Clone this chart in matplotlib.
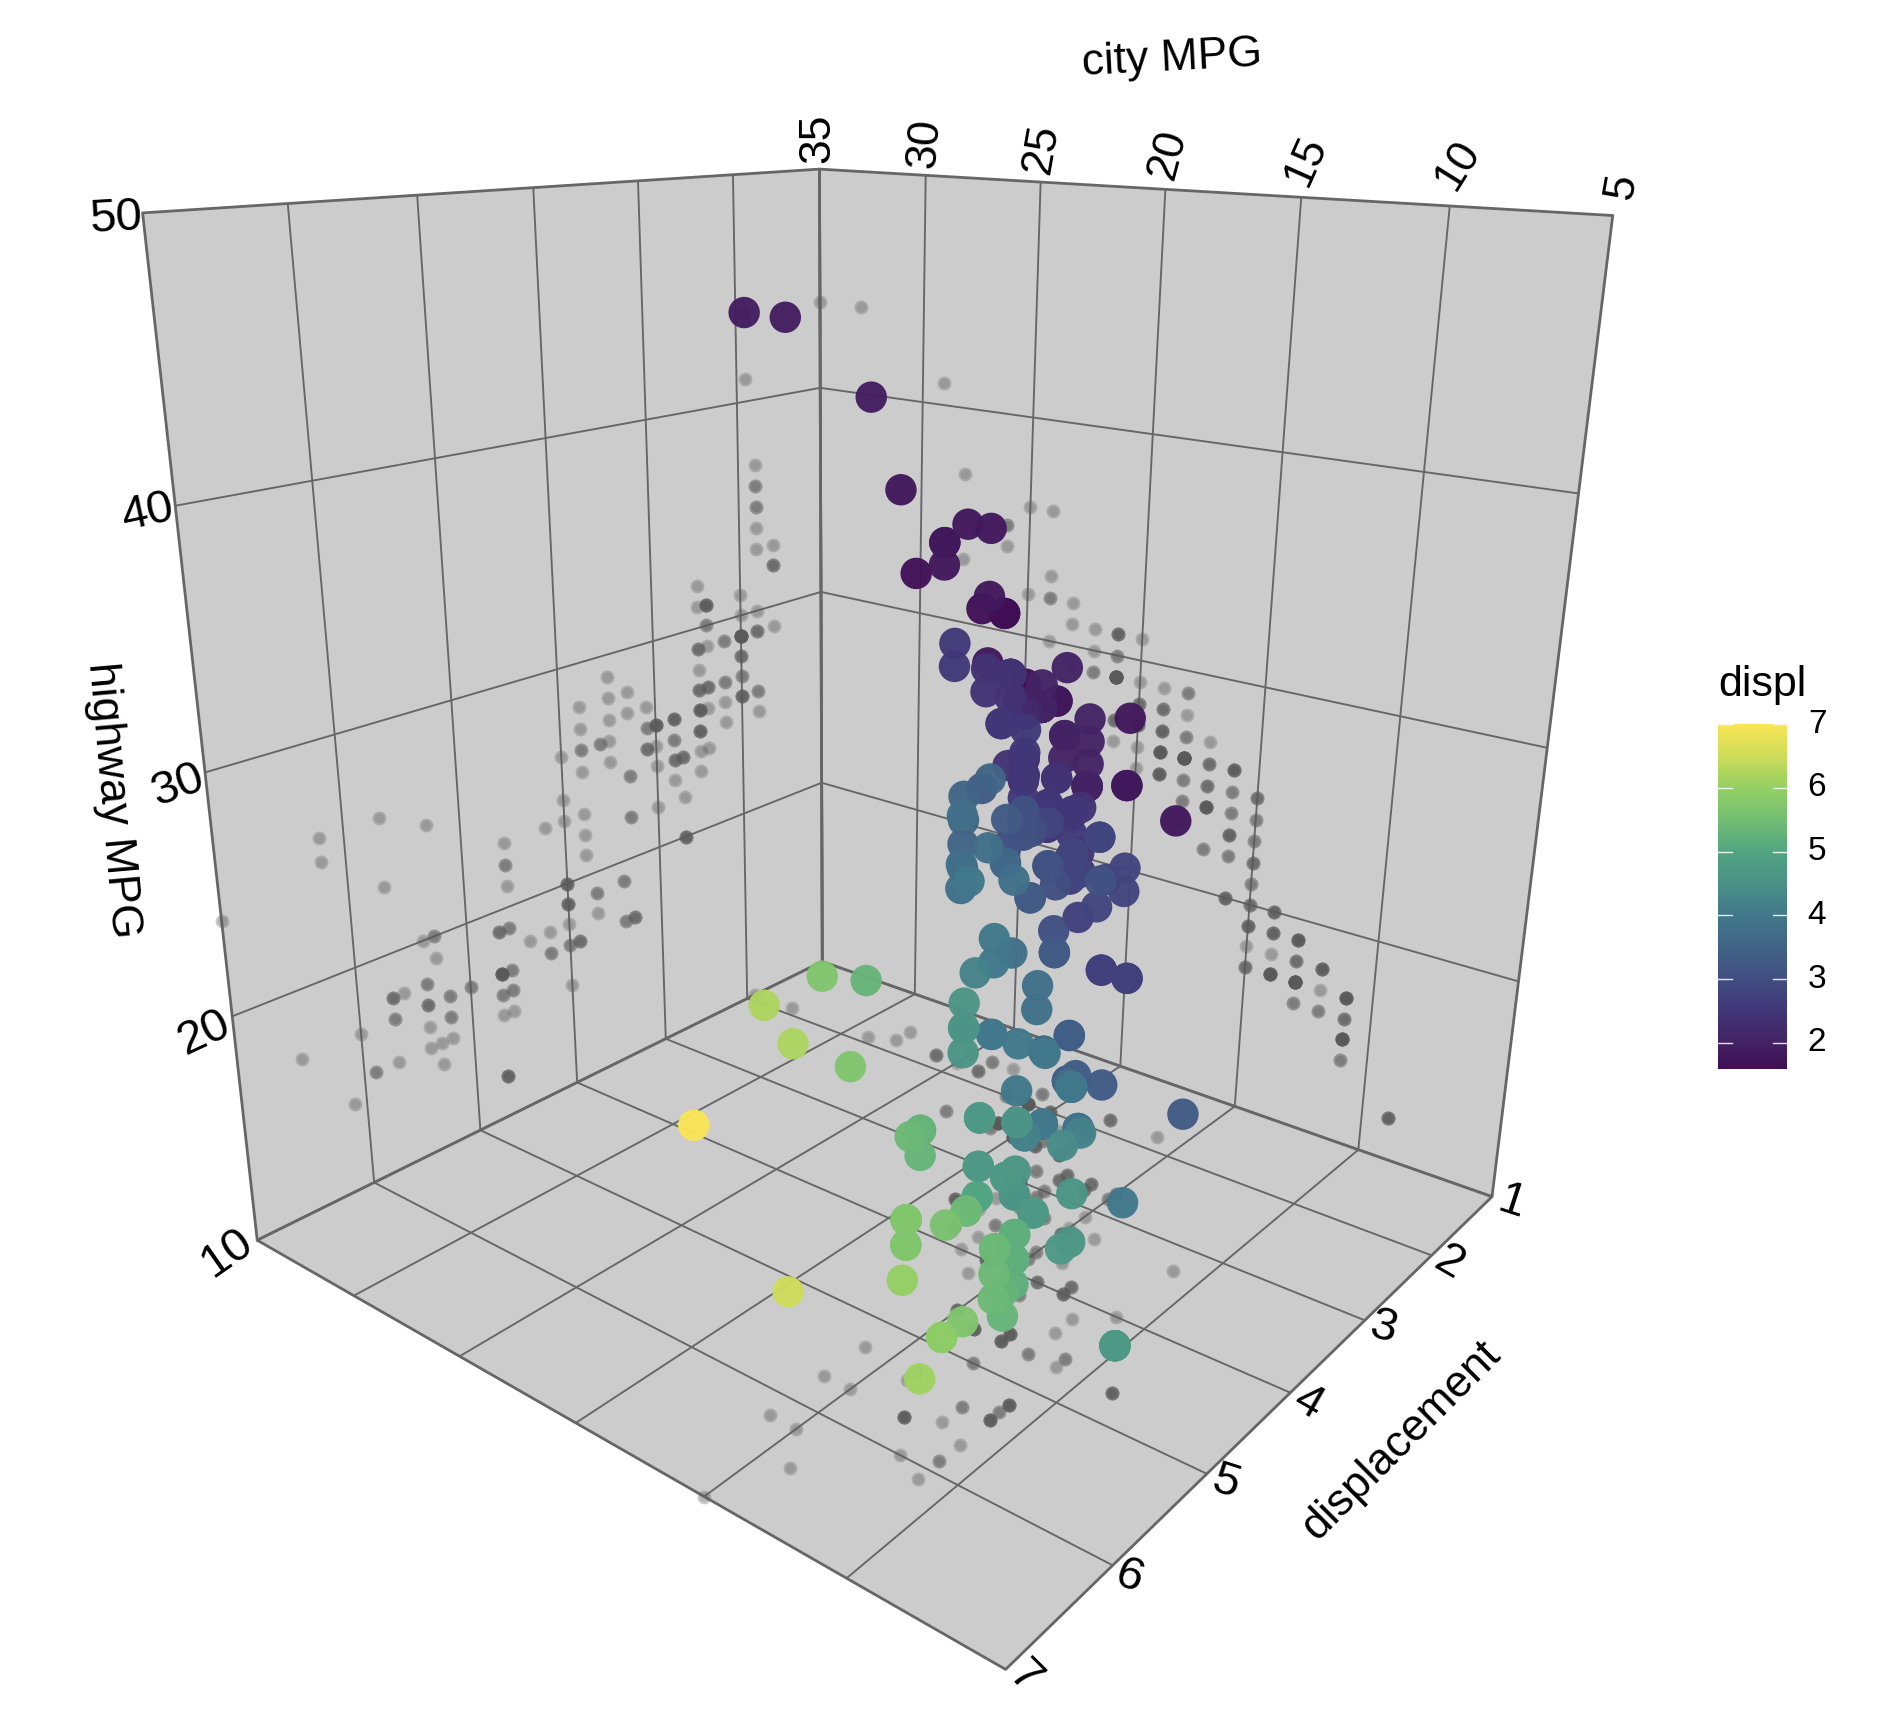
import numpy as np, matplotlib
matplotlib.use('Agg')
import matplotlib.pyplot as plt
from matplotlib.colors import LinearSegmentedColormap
from mpl_toolkits.mplot3d.art3d import Poly3DCollection

plt.rcParams['font.family']=['Liberation Sans','DejaVu Sans']

displ=[1.8,1.8,2,2,2.8,2.8,3.1, 1.8,1.8,2,2,2.8,2.8,3.1,3.1, 2.8,3.1,4.2,
5.3,5.3,5.3,5.7,6, 5.7,5.7,6.2,6.2,7, 5.3,5.3,5.7,6.5, 2.4,2.4,3.1,3.5,3.6,
2.4,3,3.3,3.3,3.3,3.3,3.3,3.8,3.8,3.8,4, 3.7,3.7,3.9,3.9,4.7,4.7,4.7,5.2,5.2,
3.9,4.7,4.7,4.7,5.2,5.7,5.9, 4.7,4.7,4.7,4.7,4.7,4.7,5.2,5.2,5.7,5.9,
4.6,5.4,5.4, 4,4,4,4,4.6,5, 4.2,4.2,4.6,4.6,4.6,5.4,5.4,
3.8,3.8,4,4,4.6,4.6,4.6,4.6,5.4,
1.6,1.6,1.6,1.6,1.6,1.8,1.8,1.8,2,
2.4,2.4,2.4,2.4,2.5,2.5,3.3, 2,2,2,2,2.7,2.7,2.7,
3,3.7,4,4.7,4.7,4.7,5.7,6.1, 4,4.2,4.4,4.6, 5.4,5.4,5.4, 4,4,4.6,5,
2.4,2.4,2.5,2.5,3.5,3.5, 3,3,3.5, 3.3,3.3,4,5.6,
3.1,3.8,3.8,3.8,5.3, 2.5,2.5,2.5,2.5,2.5,2.5, 2.2,2.2,2.5,2.5,2.5,2.5,2.5,2.5,
2.7,2.7,3.4,3.4,4,4.7, 2.2,2.2,2.4,2.4,3,3,3.5, 2.2,2.2,2.4,2.4,3,3,3.3,
1.8,1.8,1.8,1.8,1.8, 4.7,5.7, 2.7,2.7,2.7,3.4,3.4,4,4,
2,2,2,2,2.8, 1.9,2,2,2,2,2.5,2.5,2.8,2.8, 1.9,1.9,2,2,2.5,2.5, 1.8,1.8,2,2,2.8,2.8,3.6]
cty=[18,21,20,21,16,18,18, 18,16,20,19,15,17,17,15, 15,17,16,
14,11,14,13,12, 16,15,16,15,15, 14,11,11,14, 19,22,18,18,17,
18,17,16,16,17,17,11,15,15,16,16, 15,14,13,13,14,14,13,11,11,
13,13,9,13,11,13,11, 12,9,13,13,12,9,11,11,13,11,
11,11,12, 14,13,13,13,13,13, 14,14,13,13,13,11,11,
18,18,17,16,15,15,15,15,14,
28,24,25,23,24,26,25,24,21,
18,21,21,21,18,18,19, 19,19,20,20,17,16,17,
17,15,15,14,9,14,13,11, 11,12,12,11, 11,11,12, 14,13,13,13,
21,19,23,23,19,19, 18,19,19, 14,15,14,12,
18,16,17,18,16, 18,18,20,19,20,18, 21,19,19,19,20,20,19,20,
15,16,15,15,16,14, 21,21,21,21,18,18,19, 21,21,21,22,18,18,18,
24,24,26,26,28, 11,13, 15,16,17,15,15,15,16,
21,19,21,22,17, 33,21,19,22,21,21,21,16,17, 35,29,21,19,20,20, 21,18,19,21,16,18,17]
hwy=[29,29,31,30,26,26,27, 26,25,28,27,25,25,25,25, 24,25,23,
20,15,20,17,17, 26,23,26,25,24, 19,14,15,17, 27,30,26,29,26,
24,24,22,22,24,24,17,22,21,23,23, 19,18,17,17,19,19,17,17,17,
17,17,12,17,16,18,15, 16,12,17,17,16,12,15,16,17,15,
17,17,18, 17,19,19,19,19,17, 17,17,17,16,16,17,15,
26,25,26,24,21,22,23,22,20,
33,32,32,29,32,34,36,36,29,
26,27,30,31,26,26,28, 26,29,28,27,24,24,24,
22,19,20,17,12,19,18,14, 15,18,18,15, 17,16,18, 17,19,19,17,
29,27,31,32,27,26, 26,25,25, 17,17,20,18,
26,26,27,28,25, 25,24,27,25,26,23, 26,25,26,26,25,27,25,27,
20,20,19,17,20,17, 29,27,31,31,26,26,28, 27,29,31,31,26,26,27,
30,33,35,35,37, 15,18, 20,20,22,17,19,18,20,
29,26,29,29,24, 44,29,26,29,29,29,29,23,24, 44,41,29,26,28,29, 29,26,28,29,26,26,26]
cty_ticks=[35,30,25,20,15,10,5]
displ_ticks=[1,2,3,4,5,6,7]
hwy_ticks=[50,40,30,20,10]
displ=np.array(displ,float);cty=np.array(cty,float);hwy=np.array(hwy,float)
n=len(displ)

W,H=1902,1726
fig=plt.figure(figsize=(W/200,H/200),dpi=200)
ax=fig.add_subplot(projection='3d',proj_type='persp',focal_length=0.2307,computed_zorder=False)
ax.apply_aspect=lambda position=None: None
ax.set_xlim(5,35,view_margin=0);ax.set_ylim(1,7,view_margin=0);ax.set_zlim(10,50,view_margin=0)
ax.view_init(elev=19.603,azim=128.587,roll=-0.495)
ax.set_box_aspect((0.9014,0.8487,1.0),zoom=1)
cx,cy,sx,sy=892.74,759.81,9076.81,8830.91
ax.set_position([(cx-.095*sx)/W,((H-cy)-.095*sy)/H,sx*.185/W,sy*.185/H])
ax.set_axis_off()
GC='#666666'
panes=[[(5,1,10),(35,1,10),(35,1,50),(5,1,50)],[(35,1,10),(35,7,10),(35,7,50),(35,1,50)],[(5,1,10),(35,1,10),(35,7,10),(5,7,10)]]
pc=Poly3DCollection(panes,facecolors='#CCCCCC',edgecolors=GC,linewidths=1.0,zorder=1)
ax.add_collection3d(pc,autolim=False);pc.set_clip_on(False)
def seg(a,b,lw=.68):
    ax.plot([a[0],b[0]],[a[1],b[1]],[a[2],b[2]],color=GC,lw=lw,zorder=2,solid_capstyle='butt',clip_on=False)
for c_ in [10,15,20,25,30]:
    seg((c_,1,10),(c_,1,50));seg((c_,1,10),(c_,7,10))
for d in [2,3,4,5,6]:
    seg((35,d,10),(35,d,50));seg((35,d,10),(5,d,10))
for h in [20,30,40]:
    seg((5,1,h),(35,1,h));seg((35,1,h),(35,7,h))
seg((35,1,10),(35,1,50),1.0)
SH=90/255
kw=dict(depthshade=False,zorder=3,linewidths=0,clip_on=False)
for X,Y,Z in [(np.full(n,35.),displ,hwy),(cty,np.full(n,1.),hwy),(cty,displ,np.full(n,10.))]:
    ax.scatter(X,Y,Z,s=25,color=(SH,SH,SH,.3),**kw)
    ax.scatter(X,Y,Z,s=13,color=(SH,SH,SH,.2),**kw)
vals=[1.59,2,2.5,3,3.5,4,4.5,5,5.5,6,6.5,7]
cols=[(65,15,85),(68,35,100),(65,55,120),(65,78,130),(65,100,135),(65,120,140),(75,145,135),(82,165,130),(115,190,115),(148,208,100),(205,220,90),(250,230,85)]
cm=LinearSegmentedColormap.from_list('muted',[((v-1.59)/(7-1.59),tuple(x/255 for x in c_)) for v,c_ in zip(vals,cols)])
ax.scatter(cty,displ,hwy,s=128,c=displ,cmap=cm,vmin=1.59,vmax=7,depthshade=False,zorder=4,linewidths=0,alpha=.96,clip_on=False)
def T(x,y,t,size=16,rot=0,**k):
    fig.text(x/W,1-y/H,t,fontsize=size,rotation=rot,ha=k.get('ha','center'),va='center',rotation_mode='anchor')
for t,(x,y),rt in zip(cty_ticks,[(818,138),(925,143),(1042,149),(1168,154),(1306,161),(1458,165),(1622,187)],[90,85,80,75,66,58,80]):
    T(x,y,str(t),rot=rt)
for t,(x,y),rt in zip(hwy_ticks,[(116,219),(148,513),(178,786),(204,1033),(227,1253)],[3,12,20,25,35]):
    T(x,y,str(t),17,rot=rt)
for t,(x,y),rt in zip(displ_ticks,[(1512,1203),(1449,1263),(1383,1328),(1308,1403),(1225,1483),(1129,1577),(1024,1678)],[-18,-30,-15,-30,-18,-20,-45]):
    T(x,y,str(t),17,rot=rt)
T(1172,59,'city MPG',16,3)
T(112,800,'highway MPG',16,-85)
T(1401,1441,'displacement',16,45)
cax=fig.add_axes([1718/W,1-1069/H,69/W,345/H])
g=np.linspace(1.59,7,256).reshape(-1,1)
cax.imshow(g,aspect='auto',origin='lower',cmap=cm,vmin=1.59,vmax=7,extent=[0,1,1.59,7])
cax.axis('off')
for v in [2,3,4,5,6,7]:
    cax.plot([0,.21],[v,v],color='white',lw=.5,alpha=.85);cax.plot([.79,1],[v,v],color='white',lw=.5,alpha=.85)
    T(1817,724+(7-v)*63.75,str(v),12)
cax.set_xlim(0,1);cax.set_ylim(1.59,7)
T(1718,685,'displ',15.5,ha='left')
fig.savefig('out.png')
